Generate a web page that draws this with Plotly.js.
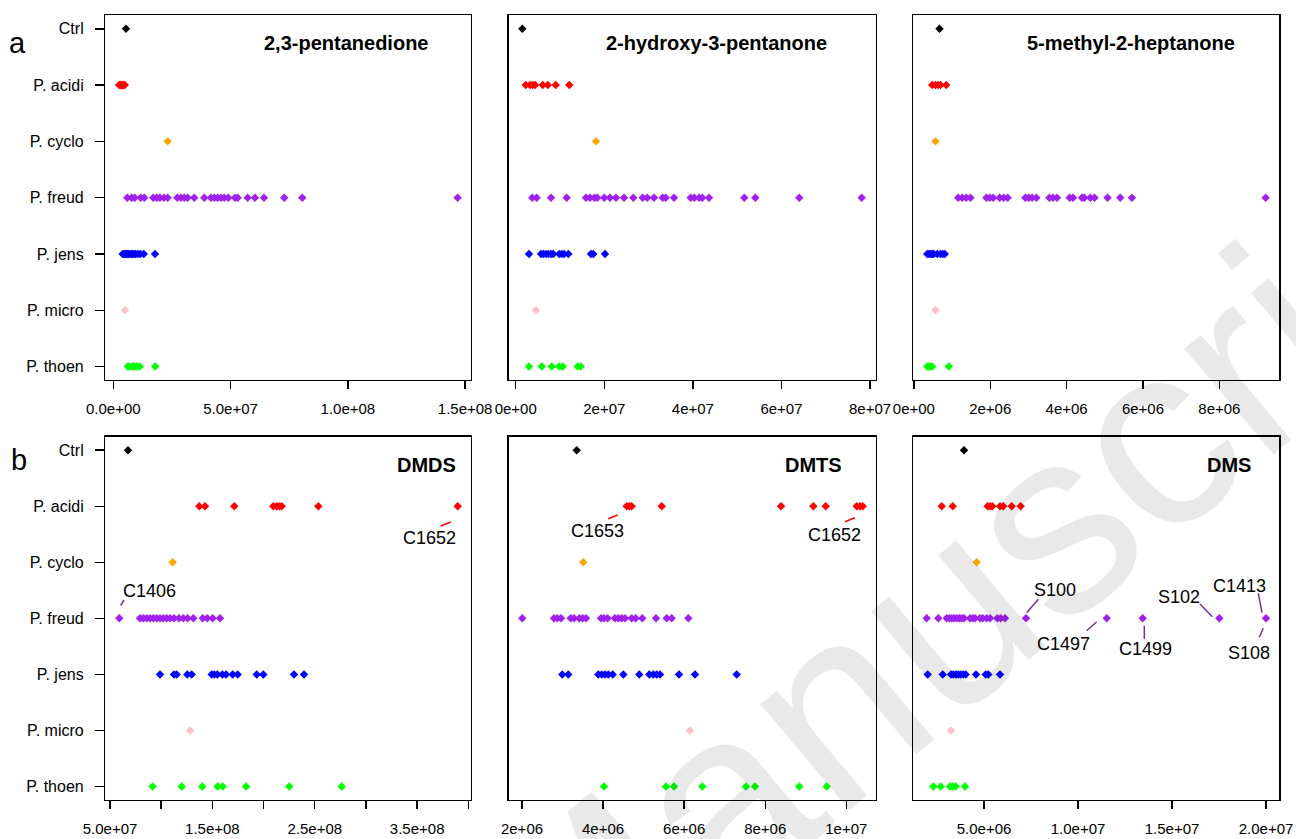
<!DOCTYPE html>
<html>
<head>
<meta charset="utf-8">
<script src="https://cdn.plot.ly/plotly-3.0.1.min.js"></script>
<style>html,body{margin:0;padding:0;background:#fff;}#chart{width:1296px;height:839px;}</style>
</head>
<body>
<div id="chart"></div>
<script>
// ---------- DATA ----------
const categories = ["Ctrl", "P. acidi", "P. cyclo", "P. freud", "P. jens", "P. micro", "P. thoen"];

// each compound: one list per category (same order as categories)
const pentanedione = [
  [5.41e6],
  [2.5e6, 2.9e6, 3.3e6, 3.6e6, 4.0e6, 4.3e6, 4.9e6],
  [2.32e7],
  [5.97e6, 7.84e6, 9.12e6, 1.168e7, 1.321e7, 1.705e7, 1.85e7, 1.99e7, 2.161e7, 2.319e7, 2.728e7, 2.886e7, 3.026e7, 3.171e7, 3.453e7, 3.879e7, 4.165e7, 4.305e7, 4.45e7, 4.591e7, 4.731e7, 4.902e7, 5.188e7, 5.303e7, 5.729e7, 6.04e7, 6.424e7, 7.289e7, 8.056e7, 1.468e8],
  [4.0e6, 4.5e6, 5.0e6, 5.5e6, 6.0e6, 6.6e6, 7.2e6, 7.8e6, 8.3e6, 9.0e6, 9.6e6, 1.05e7, 1.15e7, 1.3e7, 1.78e7],
  [4.99e6],
  [6.2e6, 6.9e6, 8.0e6, 8.6e6, 9.2e6, 1.0e7, 1.13e7, 1.79e7]
];
const hydroxypentanone = [
  [1.49e6],
  [2.26e6, 3.23e6, 3.84e6, 4.36e6, 6.1e6, 7.23e6, 9.03e6, 1.21e7],
  [1.813e7],
  [3.75e6, 4.74e6, 7.97e6, 1.151e7, 1.587e7, 1.678e7, 1.775e7, 1.842e7, 2.0e7, 2.129e7, 2.265e7, 2.445e7, 2.655e7, 2.867e7, 2.971e7, 3.123e7, 3.319e7, 3.387e7, 3.574e7, 3.951e7, 4.033e7, 4.145e7, 4.213e7, 4.364e7, 5.161e7, 5.41e7, 6.403e7, 7.812e7],
  [3.0e6, 5.71e6, 6.23e6, 6.84e6, 7.36e6, 7.97e6, 8.49e6, 9.84e6, 1.039e7, 1.091e7, 1.188e7, 1.70e7, 1.752e7, 2.016e7],
  [4.58e6],
  [3.0e6, 5.87e6, 8.13e6, 9.78e6, 1.061e7, 1.40e7, 1.468e7]
];
const methylheptanone = [
  [6.72e5],
  [4.81e5, 5.67e5, 6.38e5, 6.98e5, 8.47e5],
  [5.67e5],
  [1.161e6, 1.265e6, 1.37e6, 1.482e6, 1.901e6, 1.987e6, 2.076e6, 2.248e6, 2.353e6, 2.458e6, 2.92e6, 3.007e6, 3.095e6, 3.208e6, 3.548e6, 3.644e6, 3.749e6, 4.078e6, 4.167e6, 4.403e6, 4.463e6, 4.62e6, 4.732e6, 5.072e6, 5.404e6, 5.71e6, 9.213e6],
  [3.5e5, 3.92e5, 4.37e5, 4.81e5, 5.23e5, 6.12e5, 6.98e5, 7.58e5, 8.1e5],
  [5.67e5],
  [3.5e5, 3.92e5, 4.37e5, 4.81e5, 9.15e5]
];
const dmds = [
  [6.76e7],
  [1.372e8, 1.428e8, 1.714e8, 2.095e8, 2.128e8, 2.154e8, 2.177e8, 2.535e8, 3.896e8],
  [1.112e8],
  [5.908e7, 7.93e7, 8.253e7, 8.585e7, 8.907e7, 9.23e7, 9.562e7, 9.884e7, 1.0206e8, 1.0538e8, 1.0861e8, 1.1252e8, 1.174e8, 1.216e8, 1.259e8, 1.3137e8, 1.4055e8, 1.4504e8, 1.5032e8, 1.5745e8],
  [9.884e7, 1.1252e8, 1.1515e8, 1.2551e8, 1.298e8, 1.4934e8, 1.5188e8, 1.5481e8, 1.597e8, 1.6331e8, 1.6985e8, 1.7474e8, 1.933e8, 1.9974e8, 2.2973e8, 2.395e8],
  [1.2814e8],
  [9.171e7, 1.2004e8, 1.4016e8, 1.552e8, 1.6008e8, 1.8284e8, 2.2514e8, 2.7633e8]
];
const dmts = [
  [3.349e6],
  [4.583e6, 4.647e6, 4.706e6, 5.446e6, 8.389e6, 9.186e6, 9.491e6, 1.0256e7, 1.0337e7, 1.0404e7],
  [3.512e6],
  [2.007e6, 2.789e6, 2.871e6, 2.962e6, 3.201e6, 3.283e6, 3.413e6, 3.497e6, 3.579e6, 3.949e6, 4.023e6, 4.114e6, 4.294e6, 4.375e6, 4.459e6, 4.541e6, 4.706e6, 4.805e6, 4.967e6, 5.305e6, 5.569e6, 5.693e6, 6.102e6],
  [2.994e6, 3.142e6, 3.882e6, 3.966e6, 4.047e6, 4.129e6, 4.237e6, 4.499e6, 4.893e6, 5.14e6, 5.239e6, 5.322e6, 5.404e6, 5.873e6, 6.267e6, 7.296e6],
  [6.144e6],
  [4.023e6, 5.552e6, 5.749e6, 6.448e6, 7.525e6, 7.747e6, 8.84e6, 9.516e6]
];
const dms = [
  [3.936e6],
  [2.75e6, 3.335e6, 5.197e6, 5.319e6, 5.441e6, 5.851e6, 6.027e6, 6.473e6, 6.952e6],
  [4.612e6],
  [1.952e6, 2.569e6, 3.016e6, 3.154e6, 3.282e6, 3.404e6, 3.548e6, 3.686e6, 3.814e6, 3.936e6, 4.255e6, 4.399e6, 4.521e6, 4.787e6, 4.931e6, 5.144e6, 5.319e6, 5.707e6, 5.888e6, 6.117e6, 7.234e6, 1.1527e7, 1.3441e7, 1.7516e7, 2.0e7],
  [2.005e6, 2.803e6, 3.245e6, 3.367e6, 3.511e6, 3.633e6, 3.761e6, 3.899e6, 4.027e6, 4.574e6, 5.09e6, 5.229e6, 5.851e6],
  [3.245e6],
  [2.303e6, 2.697e6, 3.191e6, 3.335e6, 3.495e6, 3.989e6]
];

const panelTitles = ["2,3-pentanedione", "2-hydroxy-3-pentanone", "5-methyl-2-heptanone", "DMDS", "DMTS", "DMS"];

const tickVals1 = [0, 5e7, 1e8, 1.5e8];
const tickText1 = ["0.0e+00", "5.0e+07", "1.0e+08", "1.5e+08"];
const tickVals2 = [0, 2e7, 4e7, 6e7, 8e7];
const tickText2 = ["0e+00", "2e+07", "4e+07", "6e+07", "8e+07"];
const tickVals3 = [0, 2e6, 4e6, 6e6, 8e6];
const tickText3 = ["0e+00", "2e+06", "4e+06", "6e+06", "8e+06"];
const tickVals4 = [5e7, 1e8, 1.5e8, 2e8, 2.5e8, 3e8, 3.5e8, 4e8];
const tickText4 = ["5.0e+07", "", "1.5e+08", "", "2.5e+08", "", "3.5e+08", ""];
const tickVals5 = [2e6, 4e6, 6e6, 8e6, 1e7];
const tickText5 = ["2e+06", "4e+06", "6e+06", "8e+06", "1e+07"];
const tickVals6 = [5e6, 1e7, 1.5e7, 2e7];
const tickText6 = ["5.0e+06", "1.0e+07", "1.5e+07", "2.0e+07"];

// outlier labels
const labelText = ["C1406", "C1652", "C1653", "C1652", "S100", "C1497", "C1499", "S102", "C1413", "S108"];
const watermarkText = "Manuscript";

// ---------- STYLE / LAYOUT ----------
const W = 1296, H = 839;
const px = x => x / W;
const py = y => 1 - y / H;
const colors = ["#000000", "#FF0000", "#FFA500", "#A020F0", "#0000FF", "#FFC0CB", "#00FF00"];
const datasets = [pentanedione, hydroxypentanone, methylheptanone, dmds, dmts, dms];
const xRanges = [[-3.4e6, 1.525e8], [-1.58e6, 8.135e7], [-1.5e4, 9.57e6], [4.541e7, 4.026e8], [1.672e6, 1.0732e7], [1.239e6, 2.0707e7]];
const tickSets = [[tickVals1, tickText1], [tickVals2, tickText2], [tickVals3, tickText3], [tickVals4, tickText4], [tickVals5, tickText5], [tickVals6, tickText6]];
const xDomains = [[px(105.3), px(471)], [px(508.7), px(876)], [px(913.3), px(1279.3)]];
const yDomains = [[py(380), py(15.3)], [py(800), py(436.7)]];

const FONT = "Liberation Sans, Arial, sans-serif";
const traces = [];
const layout = {
  width: W, height: H,
  margin: {l: 0, r: 0, t: 0, b: 0, pad: 0},
  paper_bgcolor: "#ffffff", plot_bgcolor: "rgba(0,0,0,0)",
  showlegend: false,
  font: {family: FONT, color: "#000"},
  annotations: [], shapes: []
};

datasets.forEach((ds, p) => {
  const n = p + 1;
  const xa = n === 1 ? "x" : "x" + n;
  const ya = n === 1 ? "y" : "y" + n;
  ds.forEach((vals, i) => {
    traces.push({
      type: "scatter", mode: "markers",
      x: vals, y: vals.map(() => categories[i]),
      xaxis: xa, yaxis: ya,
      marker: {symbol: "diamond", size: 6.5, color: colors[i], line: {width: 0}},
      hoverinfo: "x+y"
    });
  });
  const col = p % 3, row = Math.floor(p / 3);
  layout["xaxis" + (n === 1 ? "" : n)] = {
    domain: xDomains[col], anchor: ya, range: xRanges[p],
    tickmode: "array", tickvals: tickSets[p][0], ticktext: tickSets[p][1],
    ticks: "outside", ticklen: 8, tickwidth: 1.4, tickcolor: "#000",
    showline: true, mirror: true, linecolor: "#000", linewidth: 1.4,
    showgrid: false, zeroline: false,
    tickfont: {family: FONT, size: 15, color: "#000"},
    ticklabelstandoff: 7
  };
  layout["yaxis" + (n === 1 ? "" : n)] = {
    domain: yDomains[row], anchor: xa, type: "category",
    categoryarray: categories, categoryorder: "array",
    range: [6.24, -0.24],
    ticks: col === 0 ? "outside" : "", ticklen: 9, tickwidth: 1.4, tickcolor: "#000",
    showticklabels: col === 0,
    showline: true, mirror: true, linecolor: "#000", linewidth: 1.4,
    showgrid: false, zeroline: false,
    tickfont: {family: FONT, size: 16, color: "#000"},
    ticklabelstandoff: 8
  };
});

// faint diagonal watermark from the source page (cut by the page edge, as in the source)
layout.annotations.push({
  text: watermarkText, xref: "paper", yref: "paper", x: px(990), y: py(575),
  xanchor: "center", yanchor: "middle", textangle: -40, showarrow: false,
  font: {family: FONT, size: 262, color: "rgba(0,0,0,0.085)"}
});

// panel titles
const titlePos = [[346, 42.7], [716, 42.7], [1131, 42.7], [426, 465], [813.3, 465], [1228.8, 465]];
panelTitles.forEach((t, i) => {
  layout.annotations.push({
    text: "<b>" + t + "</b>", xref: "paper", yref: "paper",
    x: px(titlePos[i][0]), y: py(titlePos[i][1]), xanchor: "center", yanchor: "middle",
    showarrow: false, font: {family: FONT, size: 20, color: "#000"}
  });
});
// figure letters
layout.annotations.push({text: "a", xref: "paper", yref: "paper", x: px(17.5), y: py(43), xanchor: "center", yanchor: "middle", showarrow: false, font: {family: FONT, size: 29, color: "#000"}});
layout.annotations.push({text: "b", xref: "paper", yref: "paper", x: px(19), y: py(460), xanchor: "center", yanchor: "middle", showarrow: false, font: {family: FONT, size: 29, color: "#000"}});

// outlier labels and leader lines
const labelPos = [[149.7, 590.7], [430, 538.3], [597.8, 531], [834.5, 535], [1055, 590], [1063.8, 644], [1145.3, 649.3], [1178.8, 597.3], [1239.2, 586], [1249, 652.7]];
const leaderLines = [
  [120.7, 605.7, 124, 600, "#7030A0"],
  [440.7, 526, 450.7, 522, "#FF0000"],
  [608.3, 518.7, 617.7, 515, "#FF0000"],
  [845, 521.7, 855, 517.7, "#FF0000"],
  [1026.7, 612.7, 1038.3, 599.3, "#7030A0"],
  [1086.7, 630.7, 1096.7, 621.7, "#7030A0"],
  [1144.3, 625.7, 1144.3, 639, "#7030A0"],
  [1200, 604, 1212.3, 616.7, "#7030A0"],
  [1258.3, 593.3, 1262, 612.7, "#7030A0"],
  [1259.3, 637.3, 1263.3, 628.3, "#7030A0"]
];
labelText.forEach((t, i) => {
  layout.annotations.push({
    text: t, xref: "paper", yref: "paper", x: px(labelPos[i][0]), y: py(labelPos[i][1]),
    xanchor: "center", yanchor: "middle", showarrow: false,
    font: {family: FONT, size: 18, color: "#000"}
  });
});
leaderLines.forEach(l => {
  layout.shapes.push({type: "line", xref: "paper", yref: "paper", x0: px(l[0]), y0: py(l[1]), x1: px(l[2]), y1: py(l[3]), line: {color: l[4], width: 1.5}});
});

Plotly.newPlot("chart", traces, layout, {staticPlot: true, displayModeBar: false});
</script>
</body>
</html>
